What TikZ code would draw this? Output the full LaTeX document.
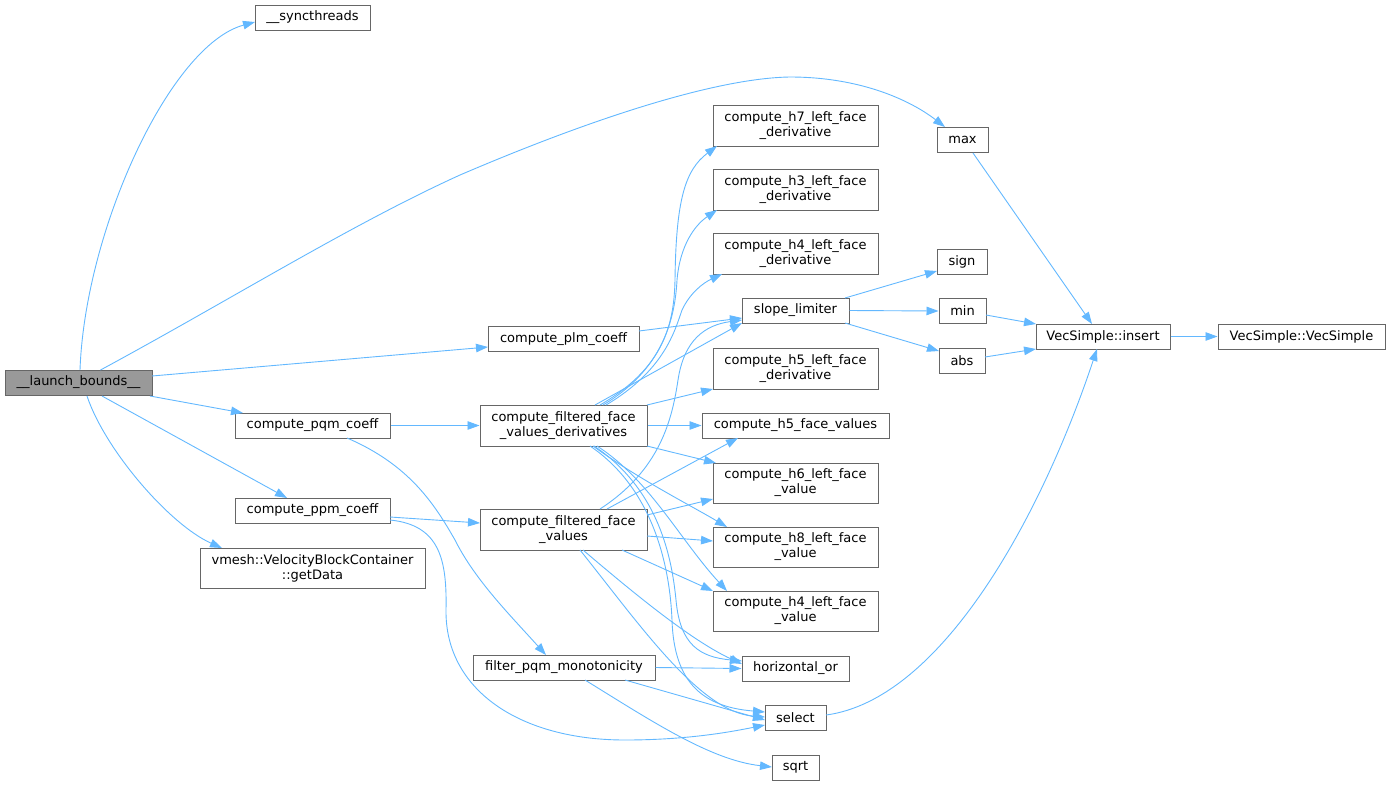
\documentclass[tikz,border=0pt]{standalone}
\usepackage{fontspec}
\setmainfont{DejaVu Sans}
\usetikzlibrary{arrows.meta,calc}
\definecolor{edgec}{HTML}{63B8FF}
\definecolor{bordc}{HTML}{666666}
\definecolor{mainfill}{HTML}{999999}
\begin{document}
\begin{tikzpicture}[x=1pt,y=-1pt,
  fn/.style={draw=bordc, line width=1pt, fill=white, inner sep=0pt, align=center,
    font=\fontsize{13}{15}\selectfont},
  one/.style={minimum height=25pt},
  two/.style={minimum height=41pt},
  call/.style={draw=edgec, line width=0.9pt, -{Triangle[length=12pt,width=8.5pt]}}]
\useasboundingbox (0,0) rectangle (1391,785);

% nodes
\node[fn,one,fill=mainfill,minimum width=147pt] (launch) at (78.5,382.5) {\_\_launch\_bounds\_\_};
\node[fn,one,minimum width=115pt] (sync) at (312.5,17.5) {\_\_syncthreads};
\node[fn,one,minimum width=51pt] (max) at (962.5,140) {max};
\node[fn,one,minimum width=151pt] (plm) at (563.5,339) {compute\_plm\_coeff};
\node[fn,one,minimum width=155pt] (pqm) at (312.5,425.5) {compute\_pqm\_coeff};
\node[fn,one,minimum width=155pt] (ppm) at (312.5,510.5) {compute\_ppm\_coeff};
\node[fn,minimum height=40pt,minimum width=225pt] (getdata) at (312.5,568) {vmesh::VelocityBlockContainer\\::getData};
\node[fn,two,minimum width=167pt] (cffvd) at (563.5,425.5) {compute\_filtered\_face\\\_values\_derivatives};
\node[fn,two,minimum width=167pt] (cffv) at (563.5,529.5) {compute\_filtered\_face\\\_values};
\node[fn,one,minimum width=182pt] (filter) at (564,667.5) {filter\_pqm\_monotonicity};
\node[fn,two,minimum width=165pt] (h7) at (795.5,125.5) {compute\_h7\_left\_face\\\_derivative};
\node[fn,two,minimum width=165pt] (h3) at (795.5,189.5) {compute\_h3\_left\_face\\\_derivative};
\node[fn,two,minimum width=165pt] (h4d) at (795.5,253.5) {compute\_h4\_left\_face\\\_derivative};
\node[fn,one,minimum width=107pt] (slope) at (795.5,310.5) {slope\_limiter};
\node[fn,two,minimum width=165pt] (h5d) at (795.5,368.5) {compute\_h5\_left\_face\\\_derivative};
\node[fn,one,minimum width=187pt] (h5fv) at (795.5,425.5) {compute\_h5\_face\_values};
\node[fn,minimum height=40pt,minimum width=165pt] (h6) at (795.5,483) {compute\_h6\_left\_face\\\_value};
\node[fn,minimum height=40pt,minimum width=165pt] (h8) at (795.5,547) {compute\_h8\_left\_face\\\_value};
\node[fn,minimum height=40pt,minimum width=165pt] (h4v) at (795.5,611) {compute\_h4\_left\_face\\\_value};
\node[fn,one,minimum width=107pt] (hor) at (795.5,668.5) {horizontal\_or};
\node[fn,one,minimum width=61pt] (select) at (795.5,717.5) {select};
\node[fn,one,minimum width=47pt] (sqrt) at (795.5,767.5) {sqrt};
\node[fn,one,minimum width=50pt] (sign) at (962,262) {sign};
\node[fn,one,minimum width=47pt] (min) at (962.5,311) {min};
\node[fn,one,minimum width=46pt] (abs) at (962,360.5) {abs};
\node[fn,one,minimum width=134pt] (insert) at (1103,336.5) {VecSimple::insert};
\node[fn,one,minimum width=167pt] (vecs) at (1301.5,336.5) {VecSimple::VecSimple};

% edges from __launch_bounds__
\draw[call] ($(launch)+(1.5,-12.5)$) .. controls (85,230) and (170,45) .. ($(sync)+(-57.5,4.5)$);
\draw[call] ($(launch)+(22,-12.5)$) .. controls (230,300) and (350,225) .. (460,175)
  .. controls (600,115) and (720,78) .. (790,77) .. controls (860,77) and (910,100) .. ($(max)+(-17.5,-13)$);
\draw[call] ($(launch)+(73.5,-6.5)$) -- ($(plm)+(-75.5,8)$);
\draw[call] ($(launch)+(71.5,13.5)$) -- ($(pqm)+(-69.5,-12.5)$);
\draw[call] ($(launch)+(23.5,13.5)$) -- ($(ppm)+(-25.5,-12.5)$);
\draw[call] ($(launch)+(8.5,13.5)$) .. controls (105,450) and (170,525) .. ($(getdata)+(-90.5,-20)$);

% plm, pqm, ppm
\draw[call] ($(plm)+(75.5,-8)$) -- ($(slope)+(-53.5,7.5)$);
\draw[call] (pqm.east) -- (cffvd.west);
\draw[call] ($(pqm)+(34.5,12.5)$) .. controls (410,465) and (435,505) .. (455,540)
  .. controls (475,580) and (510,615) .. ($(filter)+(-18,-12.5)$);
\draw[call] ($(ppm)+(77.5,6.5)$) -- ($(cffv)+(-83.5,-6.5)$);
\draw[call] ($(ppm)+(77.5,9.5)$) .. controls (440,525) and (447,560) .. (446,610)
  .. controls (445,690) and (520,740) .. (625,740) .. controls (690,740) and (735,731) .. ($(select)+(-30.5,7.5)$);

% compute_filtered_face_values_derivatives
\draw[call] ($(cffvd)+(36.5,-20.5)$) .. controls (660,370) and (674,330) .. (675,280)
  .. controls (676,200) and (685,170) .. ($(h7)+(-78.5,20.5)$);
\draw[call] ($(cffvd)+(39.5,-20.5)$) .. controls (662,370) and (675,320) .. (677,280)
  .. controls (680,245) and (695,225) .. ($(h3)+(-78.5,20.5)$);
\draw[call] ($(cffvd)+(42.5,-20.5)$) .. controls (665,370) and (675,330) .. (682,310)
  .. controls (690,293) and (703,283) .. ($(h4d)+(-73.5,20.5)$);
\draw[call] ($(cffvd)+(31.5,-20.5)$) -- ($(slope)+(-53.5,12.5)$);
\draw[call] ($(cffvd)+(83.5,-20.5)$) -- ($(h5d)+(-82.5,20.5)$);
\draw[call] (cffvd.east) -- (h5fv.west);
\draw[call] ($(cffvd)+(83.5,20.5)$) -- ($(h6)+(-79.5,-20)$);
\draw[call] ($(cffvd)+(29.5,20.5)$) .. controls (640,480) and (690,505) .. ($(h8)+(-68.5,-20)$);
\draw[call] ($(cffvd)+(33.5,20.5)$) .. controls (650,480) and (680,540) .. ($(h4v)+(-68.5,-20)$);
\draw[call] ($(cffvd)+(30.5,20.5)$) .. controls (660,490) and (672,560) .. (676,600)
  .. controls (680,645) and (700,657) .. ($(hor)+(-53.5,-7.5)$);
\draw[call] ($(cffvd)+(26.5,20.5)$) .. controls (655,490) and (670,570) .. (672,620)
  .. controls (674,685) and (705,707) .. ($(select)+(-30.5,-5.5)$);

% compute_filtered_face_values
\draw[call] ($(cffv)+(36.5,-20.5)$) .. controls (660,470) and (672,420) .. (678,380)
  .. controls (684,340) and (705,325) .. ($(slope)+(-53.5,9.5)$);
\draw[call] ($(cffv)+(43.5,-20.5)$) -- ($(h5fv)+(-57.5,12.5)$);
\draw[call] ($(cffv)+(83.5,-14.5)$) -- ($(h6)+(-82.5,16)$);
\draw[call] ($(cffv)+(83.5,6.5)$) -- ($(h8)+(-82.5,-6)$);
\draw[call] ($(cffv)+(58.5,20.5)$) -- ($(h4v)+(-82.5,-20)$);
\draw[call] ($(cffv)+(19.5,20.5)$) .. controls (630,590) and (690,640) .. ($(hor)+(-53.5,-4.5)$);
\draw[call] ($(cffv)+(16.5,20.5)$) .. controls (640,625) and (700,712) .. ($(select)+(-30.5,-0.5)$);

% filter_pqm_monotonicity
\draw[call] (filter.east) -- (hor.west);
\draw[call] ($(filter)+(61,12.5)$) -- ($(select)+(-30.5,2.5)$);
\draw[call] ($(filter)+(21,12.5)$) .. controls (650,720) and (710,760) .. ($(sqrt)+(-23.5,-0.5)$);

% slope_limiter
\draw[call] ($(slope)+(49.5,-12.5)$) -- ($(sign)+(-25,9)$);
\draw[call] (slope.east) -- (min.west);
\draw[call] ($(slope)+(49.5,12.5)$) -- ($(abs)+(-23,-9.5)$);

% to VecSimple::insert
\draw[call] ($(min)+(23.5,4)$) -- ($(insert)+(-67,-12.5)$);
\draw[call] ($(abs)+(23,-3.5)$) -- ($(insert)+(-67,12.5)$);
\draw[call] ($(max)+(10.5,13)$) -- ($(insert)+(-11,-12.5)$);
\draw[call] ($(select)+(30.5,-2.5)$) .. controls (940,700) and (1040,520) .. ($(insert)+(-6,12.5)$);
\draw[call] (insert.east) -- (vecs.west);
\end{tikzpicture}
\end{document}
